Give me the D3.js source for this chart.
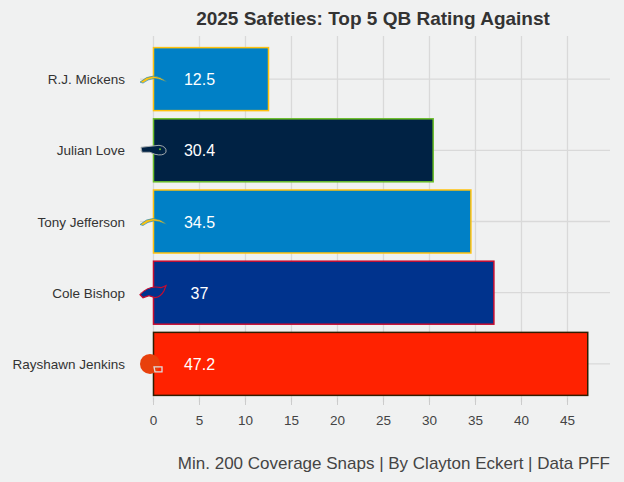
<!DOCTYPE html>
<html><head><meta charset="utf-8">
<script src="https://cdn.jsdelivr.net/npm/d3@7"></script>
<style>body{margin:0;background:#f0f1f1}svg{display:block;font-family:"Liberation Sans",Arial,sans-serif}</style>
</head><body><div id="chart"></div>
<script>
// Data
const players = ['R.J. Mickens', 'Julian Love', 'Tony Jefferson', 'Cole Bishop', 'Rayshawn Jenkins'];
const ratings = [12.5, 30.4, 34.5, 37, 47.2];
const teams = ['LAC', 'SEA', 'LAC', 'BUF', 'CLE'];
const fills = { LAC: '#0080c6', SEA: '#002244', BUF: '#00338d', CLE: '#ff2200' };
const strokes = { LAC: '#ffc20e', SEA: '#69be28', BUF: '#c60c30', CLE: '#311d00' };
const ticks = [0, 5, 10, 15, 20, 25, 30, 35, 40, 45];

const W = 624, H = 482;
const svg = d3.select('#chart').append('svg').attr('width', W).attr('height', H);
svg.append('rect').attr('width', W).attr('height', H).attr('fill', '#f0f1f1');

const x = d3.scaleLinear().domain([0, 45]).range([153.5, 567.5]);
const y = d3.scaleBand().domain(players).range([40.5, 402.5]).paddingInner(0.115).paddingOuter(0.1);

// grid
svg.selectAll('.vg').data(ticks).enter().append('line')
    .attr('x1', d => x(d)).attr('x2', d => x(d)).attr('y1', 36).attr('y2', 402)
    .attr('stroke', '#d9d9d9').attr('stroke-width', 1.3);
svg.selectAll('.hg').data(players).enter().append('line')
    .attr('x1', 140).attr('x2', 610)
    .attr('y1', d => y(d) + y.bandwidth() / 2).attr('y2', d => y(d) + y.bandwidth() / 2)
    .attr('stroke', '#d9d9d9').attr('stroke-width', 1.3);

// bars
svg.selectAll('.bar').data(players).enter().append('rect')
    .attr('x', x(0)).attr('y', d => y(d))
    .attr('width', (d, i) => x(ratings[i]) - x(0)).attr('height', y.bandwidth())
    .attr('fill', (d, i) => fills[teams[i]]).attr('stroke', (d, i) => strokes[teams[i]]).attr('stroke-width', 1.5);

svg.selectAll('.val').data(players).enter().append('text')
    .attr('x', x(5)).attr('y', d => y(d) + y.bandwidth() / 2 + 6)
    .attr('text-anchor', 'middle').attr('fill', '#fff').attr('font-size', 16)
    .text((d, i) => ratings[i]);

// y labels
svg.selectAll('.yl').data(players).enter().append('text')
    .attr('x', 125).attr('y', d => y(d) + y.bandwidth() / 2 + 5)
    .attr('text-anchor', 'end').attr('fill', '#333').attr('font-size', 13.5)
    .text(d => d);

// simple team marks
players.forEach((p, i) => {
    const cy = y(p) + y.bandwidth() / 2, cx = 153;
    const g = svg.append('g').attr('transform', `translate(${cx},${cy})`);
    const t = teams[i];
    if (t === 'LAC') {
        g.append('path').attr('d', 'M-13,3 Q0,-9 14,3 L11,2 Q0,-4 -10,4 Z').attr('fill', '#ffc20e').attr('stroke', '#0080c6').attr('stroke-width', 0.6);
    } else if (t === 'SEA') {
        g.append('path').attr('d', 'M-12,-3 L6,-5 Q14,-4 13,2 Q10,6 2,4 L-3,2 L-11,2 Z').attr('fill', '#002244').attr('stroke', '#a5acaf').attr('stroke-width', 1);
        g.append('circle').attr('cx', 7).attr('cy', -1).attr('r', 1).attr('fill', '#69be28');
    } else if (t === 'BUF') {
        g.append('path').attr('d', 'M-13,2 Q-4,-8 8,-5 L13,-7 L11,-2 Q8,4 2,5 L-4,3 L-10,5 Z').attr('fill', '#00338d').attr('stroke', '#c60c30').attr('stroke-width', 1.2);
    } else {
        g.append('circle').attr('cx', -3).attr('cy', 0).attr('r', 10).attr('fill', '#e8400c');
        g.append('path').attr('d', 'M1,3 L9,3 L9,8 L2,8 Z').attr('fill', 'none').attr('stroke', '#ddd').attr('stroke-width', 1.3);
    }
});

// x axis ticks and labels
svg.selectAll('.xt').data(ticks).enter().append('line')
    .attr('x1', d => x(d)).attr('x2', d => x(d)).attr('y1', 398).attr('y2', 405)
    .attr('stroke', '#ccc');
svg.selectAll('.xl').data(ticks).enter().append('text')
    .attr('x', d => x(d)).attr('y', 425).attr('text-anchor', 'middle')
    .attr('fill', '#444').attr('font-size', 13.5).text(d => d);

svg.append('text').attr('x', 373).attr('y', 25).attr('text-anchor', 'middle')
    .attr('font-size', 19).attr('font-weight', 'bold').attr('fill', '#333')
    .text('2025 Safeties: Top 5 QB Rating Against');
svg.append('text').attr('x', 610).attr('y', 469).attr('text-anchor', 'end')
    .attr('font-size', 17).attr('fill', '#444')
    .text('Min. 200 Coverage Snaps | By Clayton Eckert | Data PFF');
</script></body></html>
